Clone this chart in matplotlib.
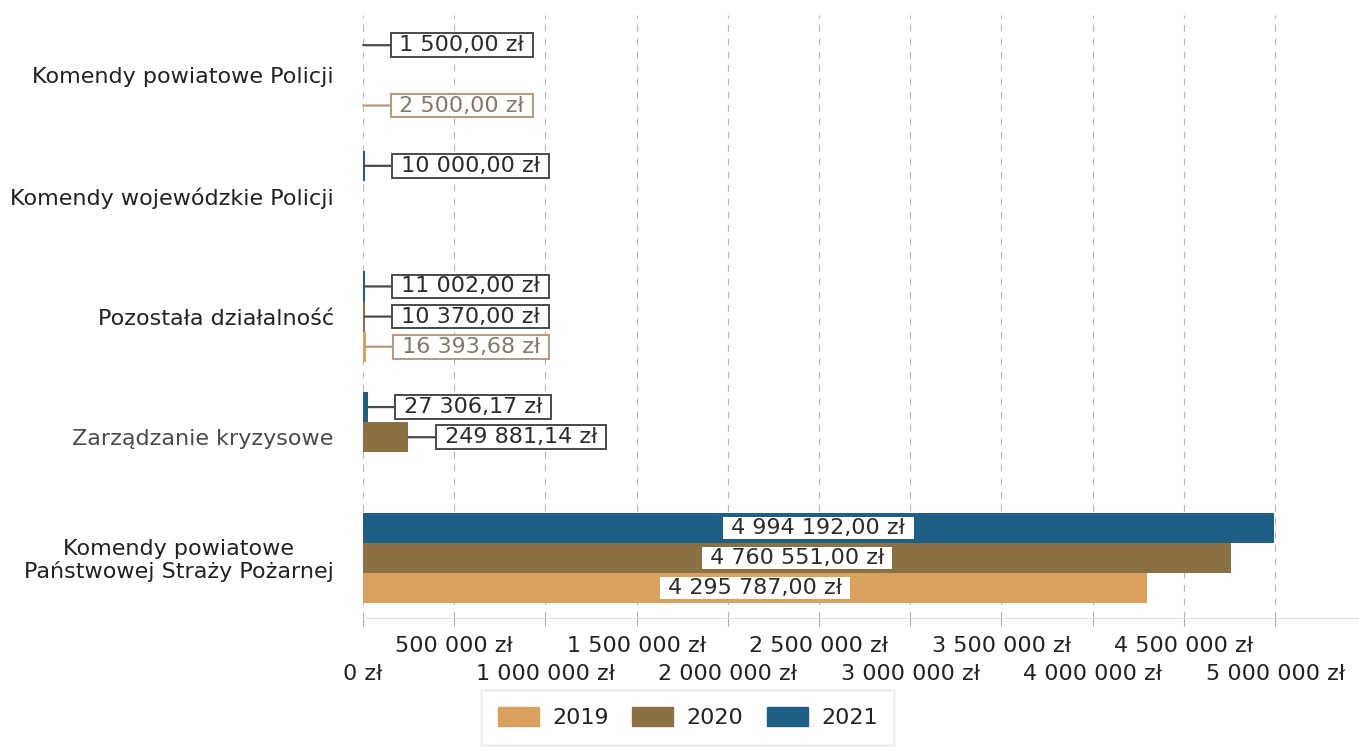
import matplotlib.pyplot as plt
import numpy as np

# Categories from top to bottom
categories = [
    "Komendy powiatowe Policji",
    "Komendy wojewódzkie Policji",
    "Pozostała działalność",
    "Zarządzanie kryzysowe",
    "Komendy powiatowe\nPaństwowej Straży Pożarnej",
]
years = ["2019", "2020", "2021"]
values_2019 = [2500.00, None, 16393.68, None, 4295787.00]
values_2020 = [None, None, 10370.00, 249881.14, 4760551.00]
values_2021 = [1500.00, 10000.00, 11002.00, 27306.17, 4994192.00]
xticks = [0, 500000, 1000000, 1500000, 2000000, 2500000, 3000000,
          3500000, 4000000, 4500000, 5000000]

colors = {"2019": "#d9a15d", "2020": "#8a7043", "2021": "#1d5f85"}
label_text = {"2019": "#85796b", "2020": "#2b2b2b", "2021": "#2b2b2b"}
label_edge = {"2019": "#b39a7c", "2020": "#4a4a4a", "2021": "#4a4a4a"}
offsets = {"2019": 0.25, "2020": 0.0, "2021": -0.25}
series = {"2019": values_2019, "2020": values_2020, "2021": values_2021}

FS = 16


def zl(v):
    whole, frac = f"{v:,.2f}".split(".")
    return whole.replace(",", " ") + "," + frac + " zł"


plt.rcParams["font.family"] = ["DejaVu Sans"]
fig = plt.figure(figsize=(13.59, 7.52), dpi=100)
ax = fig.add_axes([0.267, 0.178, 0.733, 0.802])

y = np.arange(len(categories))
for yr in years:
    vals = series[yr]
    for i, v in enumerate(vals):
        if v is None:
            continue
        ax.barh(y[i] + offsets[yr], v, height=0.25, color=colors[yr], zorder=2)
        if v > 1000000:
            # big values: label sits in the middle of the bar
            ax.text(v / 2, y[i] + offsets[yr], " " + zl(v) + " ", ha="center",
                    va="center", fontsize=FS, color="#2b2b2b", zorder=4,
                    bbox=dict(boxstyle="square,pad=0.05", fc="white", ec="none"))
        else:
            # small values: boxed label with a leader line
            ax.annotate(" " + zl(v) + " ", xy=(v, y[i] + offsets[yr]), xytext=(21, 0),
                        textcoords="offset points", ha="left", va="center",
                        fontsize=FS, color=label_text[yr], zorder=4,
                        bbox=dict(boxstyle="square,pad=0.08", fc="white",
                                  ec=label_edge[yr], lw=1.4),
                        arrowprops=dict(arrowstyle="-", color=label_edge[yr], lw=1.6,
                                        shrinkA=0, shrinkB=0))

ax.set_ylim(4.5, -0.5)
ax.set_yticks(y)
ax.set_yticklabels(categories, fontsize=FS, color="#222222", ha="right",
                   multialignment="center", linespacing=1.1)
ax.get_yticklabels()[3].set_color("#4a4a4a")
ax.tick_params(axis="y", length=0, pad=21)

ax.set_xlim(0, 5460000)
ax.set_xticks(xticks)
xlabels = ["0 zł" if t == 0 else f"{t:,}".replace(",", " ") + " zł" for t in xticks]
ax.set_xticklabels(xlabels, fontsize=FS, color="#222222")
ax.tick_params(axis="x", length=6, color="#aaaaaa")
# alternate labels between two rows
for k, tick in enumerate(ax.xaxis.get_major_ticks()):
    tick.set_pad(27 if k % 2 == 0 else 7)

ax.grid(axis="x", color="#b5b5b5", linestyle=(0, (6, 6)), lw=0.8, zorder=0)
for side in ["top", "right", "left"]:
    ax.spines[side].set_visible(False)
ax.spines["bottom"].set_color("#dddddd")

handles = [plt.Rectangle((0, 0), 1, 1, color=colors[yr]) for yr in years]
leg = fig.legend(handles, years, loc="upper center", bbox_to_anchor=(0.506, 0.082),
                 ncol=3, fontsize=FS, handlelength=1.85, handleheight=0.95,
                 handletextpad=0.6, columnspacing=1.05, frameon=True, fancybox=False,
                 borderpad=0.75, borderaxespad=0)
leg.get_frame().set_edgecolor("#dddddd")
for t in leg.get_texts():
    t.set_color("#222222")

fig.savefig("out.png", dpi=100)
